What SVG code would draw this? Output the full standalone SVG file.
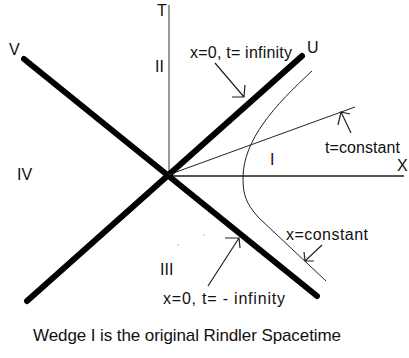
<svg xmlns="http://www.w3.org/2000/svg" width="409" height="358" viewBox="0 0 409 358">
<style>
text{font-family:"Liberation Sans",Arial,Helvetica,sans-serif;font-size:16px;fill:#111}
.cap{font-size:17px}
.axis{stroke:#555;fill:none}
.cone{stroke:#000;stroke-width:6;stroke-linecap:round;fill:none}
.thin{stroke:#222;stroke-width:1;fill:none}
.arr{stroke:#222;stroke-width:1.2;fill:none}
</style>
<rect width="409" height="358" fill="#fff"/>
<g id="axis-T"><line class="axis" x1="169" y1="5" x2="169" y2="176" stroke-width="1.2"/><text x="157" y="16">T</text></g>
<g id="axis-X"><line class="axis" x1="168" y1="176" x2="404" y2="176" stroke-width="2"/><text x="397" y="171">X</text></g>
<g id="line-V"><line class="cone" x1="24" y1="59" x2="317" y2="296"/><text x="9" y="55">V</text></g>
<g id="line-U"><line class="cone" x1="27" y1="301" x2="302" y2="56"/><text x="307" y="53">U</text></g>
<g id="t-constant"><line class="thin" x1="168" y1="175" x2="355" y2="107"/><text x="325" y="153" textLength="75">t=constant</text></g>
<g id="x-constant"><path class="thin" d="M312,71 C275,105 243,140 243,178 C243,195 246,203 258,217 L326,281"/><text x="286" y="240" textLength="82">x=constant</text></g>
<g id="region-I"><text x="270" y="165">I</text></g>
<g id="region-II"><text x="155" y="72">II</text></g>
<g id="region-III"><text x="160" y="275">III</text></g>
<g id="region-IV"><text x="17" y="180">IV</text></g>
<g id="label-future"><text x="190" y="58" textLength="102">x=0, t= infinity</text></g>
<g id="label-past"><text x="163" y="304" textLength="122">x=0, t= - infinity</text></g>
<g id="caption"><text class="cap" x="33" y="341" textLength="308">Wedge I is the original Rindler Spacetime</text></g>
<g id="connectors">
<path class="arr" d="M215,63 L244,97 M232,97 L244,97 L245,85"/>
<path class="arr" d="M351,133 L341,112 M350,114 L341,112 L338,125"/>
<path class="arr" d="M322,245 L305,261 M314,261 L305,261 L304,252"/>
<path class="arr" d="M208,286 L239,238 M225,238 L239,238 L240,248"/>
</g>
<g id="specks" fill="#999"><circle cx="204" cy="235" r="0.7"/><circle cx="178" cy="245" r="0.7"/></g>
</svg>
